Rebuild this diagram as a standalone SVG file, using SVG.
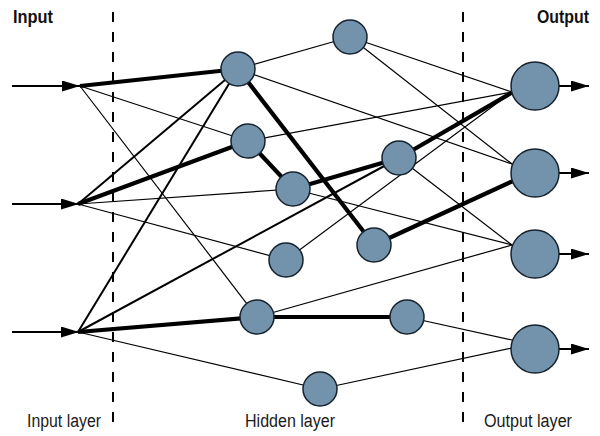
<svg xmlns="http://www.w3.org/2000/svg" width="600" height="436" viewBox="0 0 600 436">
<style>
  .thin{stroke:#000;stroke-width:1.2;fill:none}
  .med{stroke:#000;stroke-width:2;fill:none}
  .thick{stroke:#000;stroke-width:4.2;fill:none}
  .io{stroke:#000;stroke-width:2;fill:none;marker-end:url(#ah)}
  .dash{stroke:#000;stroke-width:2;stroke-dasharray:10 10;fill:none}
  .hn{fill:#7393ad;stroke:#17232e;stroke-width:1.5}
  .on{fill:#7393ad;stroke:#17232e;stroke-width:1.5}
  .lbl{font-family:"Liberation Sans Narrow","Liberation Sans",Arial,sans-serif;font-size:18px;fill:#1a1a1a}
  .ttl{font-family:"Liberation Sans Narrow","Liberation Sans",Arial,sans-serif;font-size:18.5px;font-weight:bold;fill:#111}
</style>
<defs>
  <marker id="ah" markerUnits="userSpaceOnUse" markerWidth="18" markerHeight="11" refX="18" refY="5.5" orient="auto">
    <path d="M0,0 L18,5.5 L0,11 Z" fill="#000"/>
  </marker>
</defs>
<rect width="600" height="436" fill="#fff"/>

<g id="layer-dividers">
  <line class="dash" x1="113" y1="12" x2="113" y2="432"/>
  <line class="dash" x1="463" y1="12" x2="463" y2="432"/>
</g>

<g id="labels">
  <text class="ttl" x="13" y="22.5" textLength="40" lengthAdjust="spacingAndGlyphs">Input</text>
  <text class="ttl" x="537" y="22.5" textLength="52" lengthAdjust="spacingAndGlyphs">Output</text>
  <text class="lbl" x="27" y="427" textLength="74" lengthAdjust="spacingAndGlyphs">Input layer</text>
  <text class="lbl" x="245" y="427" textLength="90" lengthAdjust="spacingAndGlyphs">Hidden layer</text>
  <text class="lbl" x="484" y="427" textLength="88" lengthAdjust="spacingAndGlyphs">Output layer</text>
</g>

<g id="connectors">
  <!-- input arrows -->
  <line class="io" x1="12" y1="86" x2="80" y2="86"/>
  <line class="io" x1="12" y1="204" x2="79" y2="204"/>
  <line class="io" x1="12" y1="332" x2="79" y2="332"/>
  <!-- from input 1 -->
  <line class="thick" x1="80" y1="86" x2="238" y2="69"/>
  <line class="thin" x1="80" y1="86" x2="248" y2="141"/>
  <line class="thin" x1="80" y1="86" x2="257" y2="317"/>
  <!-- from input 2 -->
  <line class="med" x1="78" y1="204" x2="238" y2="69"/>
  <line class="thick" x1="78" y1="204" x2="248" y2="141"/>
  <line class="thin" x1="78" y1="204" x2="293" y2="189"/>
  <line class="thin" x1="78" y1="204" x2="286" y2="260"/>
  <!-- from input 3 -->
  <line class="med" x1="78" y1="332" x2="238" y2="69"/>
  <line class="med" x1="78" y1="332" x2="399" y2="158"/>
  <line class="thick" x1="78" y1="332" x2="257" y2="317"/>
  <line class="thin" x1="78" y1="332" x2="320" y2="389"/>
  <!-- hidden to hidden -->
  <line class="thin" x1="238" y1="69" x2="350" y2="37"/>
  <line class="thick" x1="238" y1="69" x2="374" y2="245"/>
  <line class="thick" x1="248" y1="141" x2="293" y2="189"/>
  <line class="thick" x1="293" y1="189" x2="399" y2="158"/>
  <line class="thick" x1="257" y1="317" x2="407" y2="317"/>
  <!-- hidden to output 1 -->
  <line class="thin" x1="350" y1="37" x2="512" y2="92"/>
  <line class="thin" x1="248" y1="141" x2="512" y2="92"/>
  <line class="thick" x1="399" y1="158" x2="513" y2="92"/>
  <line class="thin" x1="286" y1="260" x2="512" y2="92"/>
  <!-- hidden to output 2 -->
  <line class="thin" x1="350" y1="37" x2="512" y2="164"/>
  <line class="thin" x1="238" y1="69" x2="512" y2="164"/>
  <line class="thick" x1="374" y1="245" x2="513" y2="181"/>
  <!-- hidden to output 3 -->
  <line class="thin" x1="293" y1="189" x2="512" y2="245"/>
  <line class="thin" x1="399" y1="158" x2="512" y2="245"/>
  <line class="thin" x1="257" y1="317" x2="512" y2="245"/>
  <!-- hidden to output 4 -->
  <line class="thin" x1="407" y1="317" x2="512" y2="340"/>
  <line class="thin" x1="320" y1="389" x2="512" y2="348"/>
  <!-- output arrows -->
  <line class="io" x1="559" y1="86" x2="589" y2="86"/>
  <line class="io" x1="559" y1="173" x2="589" y2="173"/>
  <line class="io" x1="559" y1="254" x2="589" y2="254"/>
  <line class="io" x1="559" y1="349" x2="589" y2="349"/>
</g>

<g id="h1"><circle class="hn" cx="238" cy="69" r="17"/></g>
<g id="h2"><circle class="hn" cx="350" cy="37" r="17"/></g>
<g id="h3"><circle class="hn" cx="248" cy="141" r="17"/></g>
<g id="h4"><circle class="hn" cx="293" cy="189" r="17"/></g>
<g id="h5"><circle class="hn" cx="399" cy="158" r="17"/></g>
<g id="h6"><circle class="hn" cx="286" cy="260" r="17"/></g>
<g id="h7"><circle class="hn" cx="374" cy="245" r="17"/></g>
<g id="h8"><circle class="hn" cx="257" cy="317" r="17"/></g>
<g id="h9"><circle class="hn" cx="407" cy="317" r="17"/></g>
<g id="h10"><circle class="hn" cx="320" cy="389" r="17"/></g>

<g id="o1"><circle class="on" cx="535" cy="86" r="24"/></g>
<g id="o2"><circle class="on" cx="535" cy="173" r="24"/></g>
<g id="o3"><circle class="on" cx="535" cy="254" r="24"/></g>
<g id="o4"><circle class="on" cx="535" cy="349" r="24"/></g>
</svg>
